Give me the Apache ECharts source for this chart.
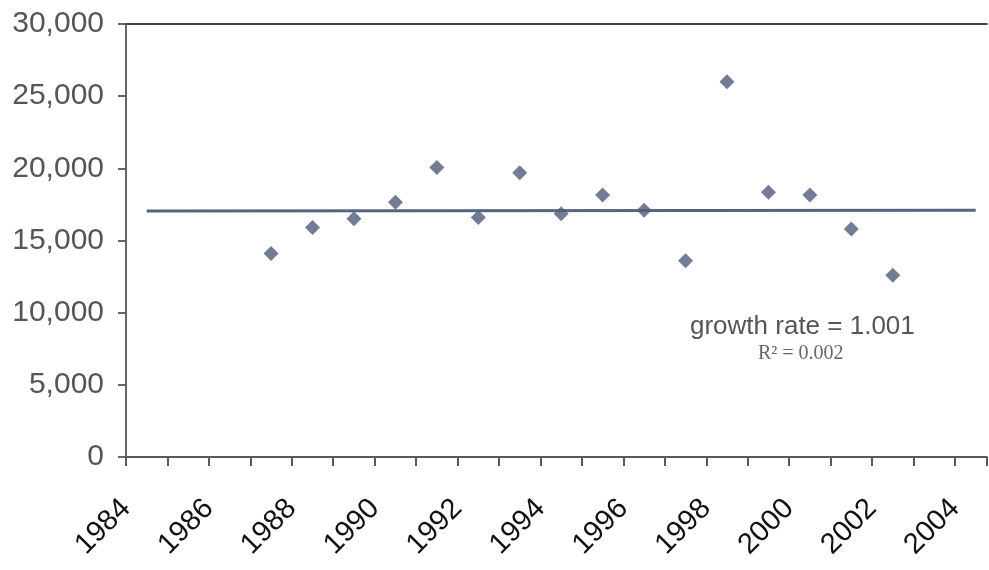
<!DOCTYPE html>
<html>
<head>
<meta charset="utf-8">
<script src="https://cdn.jsdelivr.net/npm/echarts@6/dist/echarts.min.js"></script>
<style>
  html, body { margin: 0; padding: 0; background: #fff; }
  #grafico { width: 989px; height: 570px; }
</style>
</head>
<body>
<div id="grafico"></div>
<script>
// valores (puntos en la mitad de cada año)
const anios = [1987.5, 1988.5, 1989.5, 1990.5, 1991.5, 1992.5, 1993.5, 1994.5,
               1995.5, 1996.5, 1997.5, 1998.5, 1999.5, 2000.5, 2001.5, 2002.5];
const valores = [14100, 15900, 16500, 17650, 20050, 16600, 19700, 16850,
                 18150, 17100, 13600, 26000, 18350, 18150, 15800, 12600];

const tendenciaX = [1984.5, 2004.5];
const tendenciaY = [17050, 17100];

const ticksY = [0, 5000, 10000, 15000, 20000, 25000, 30000];

const puntos = anios.map(function(a, i) {
    return [a, valores[i]];
});
const lineaTendencia = tendenciaX.map(function(a, i) {
    return [a, tendenciaY[i]];
});

const grafico = echarts.init(document.getElementById("grafico"));
grafico.setOption({
    animation: false,
    grid: { left: 126, right: 0, top: 24, bottom: 113 },
    xAxis: [{
        type: "value",
        min: 1984,
        max: 2004.77,
        interval: 1,
        splitLine: { show: false },
        axisLine: { lineStyle: { color: "#5a5a5a", width: 2 } },
        axisTick: { length: 9, lineStyle: { color: "#5a5a5a", width: 2 } },
        axisLabel: {
            rotate: 45,
            margin: 47,
            fontSize: 29,
            color: "#111",
            fontFamily: "Liberation Sans",
            formatter: function(v) {
                return (Number.isInteger(v) && v % 2 === 0) ? String(v) : "";
            }
        }
    }, {
        type: "value",
        position: "top",
        min: 1984,
        max: 2004.77,
        axisLine: { show: true, lineStyle: { color: "#444", width: 2 } },
        axisTick: { show: false },
        axisLabel: { show: false },
        splitLine: { show: false }
    }],
    yAxis: {
        type: "value",
        min: ticksY[0],
        max: ticksY[ticksY.length - 1],
        interval: 5000,
        splitLine: { show: false },
        axisLine: { show: true, lineStyle: { color: "#666", width: 2 } },
        axisTick: { show: true, length: 8, lineStyle: { color: "#666", width: 2 } },
        axisLabel: {
            margin: 22,
            fontSize: 30,
            color: "#555",
            fontFamily: "Liberation Sans",
            formatter: function(v) {
                return v.toLocaleString("en-US");
            }
        }
    },
    series: [{
        name: "Tendencia",
        type: "line",
        data: lineaTendencia,
        symbol: "none",
        lineStyle: { color: "#56657f", width: 3 },
        z: 2
    }, {
        name: "Valores",
        type: "scatter",
        data: puntos,
        symbol: "diamond",
        symbolSize: 15,
        itemStyle: { color: "#4f5d78" },
        z: 3
    }],
    graphic: [{
        type: "text",
        left: 690,
        top: 314,
        style: {
            text: "growth rate = 1.001",
            fontSize: 26,
            fill: "#555",
            fontFamily: "Liberation Sans"
        }
    }, {
        type: "text",
        left: 758,
        top: 344,
        style: {
            text: "R² = 0.002",
            fontSize: 20,
            fill: "#666",
            fontFamily: "Liberation Serif"
        }
    }]
});
</script>
</body>
</html>
